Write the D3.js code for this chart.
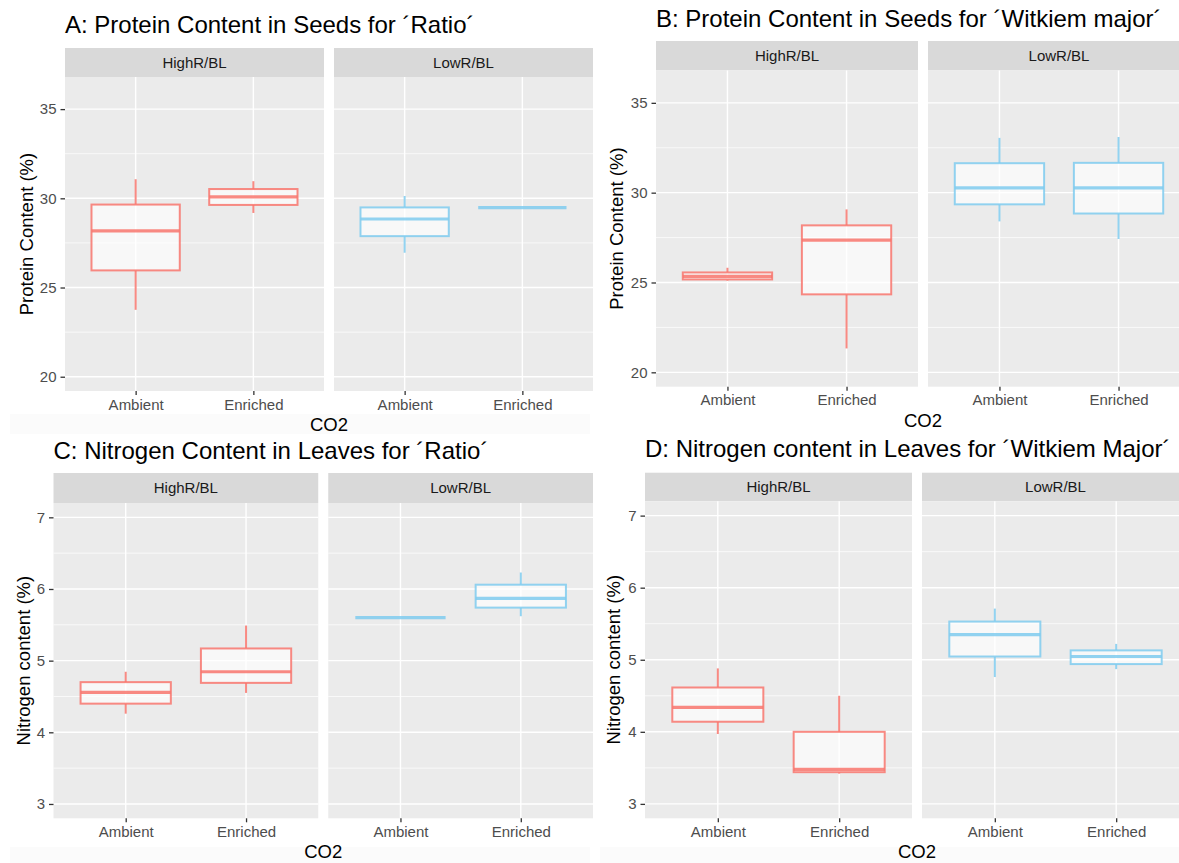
<!DOCTYPE html>
<html>
<head>
<meta charset="utf-8">
<script src="https://cdn.jsdelivr.net/npm/d3@7"></script>
<style>
  body { margin: 0; background: #fff; }
  svg { display: block; font-family: "Liberation Sans", Arial, Helvetica, sans-serif; }
</style>
</head>
<body>
<div id="chart"></div>
<script>
// facets and x categories
const facets = ["HighR/BL", "LowR/BL"];
const co2Levels = ["Ambient", "Enriched"];

// titles
const panelTitles = [
  "A: Protein Content in Seeds for \u00b4Ratio\u00b4",
  "B: Protein Content in Seeds for \u00b4Witkiem major\u00b4",
  "C: Nitrogen Content in Leaves for \u00b4Ratio\u00b4",
  "D: Nitrogen content in Leaves for \u00b4Witkiem Major\u00b4"
];
const yTitles = ["Protein Content (%)", "Protein Content (%)", "Nitrogen content (%)", "Nitrogen content (%)"];

// tick labels
const proteinTicks = [20, 25, 30, 35];
const proteinMinor = [22.5, 27.5, 32.5];
const nitrogenTicks = [3, 4, 5, 6, 7];
const nitrogenMinor = [3.5, 4.5, 5.5, 6.5];
const proteinLimits = [20, 36];
const nitrogenLimits = [3, 7];

// box stats [lower whisker, q1, median, q3, upper whisker]
// order: HighR Ambient, HighR Enriched, LowR Ambient, LowR Enriched
const proteinRatio = [
  [23.75, 25.96, 28.18, 29.65, 31.07],
  [29.18, 29.63, 30.08, 30.52, 30.96],
  [26.95, 27.88, 28.84, 29.49, 30.13],
  [29.48, 29.48, 29.48, 29.48, 29.48]
];
const proteinWitkiem = [
  [25.10, 25.17, 25.34, 25.56, 25.82],
  [21.33, 24.34, 27.36, 28.18, 29.07],
  [28.40, 29.35, 30.27, 31.64, 33.05],
  [27.42, 28.84, 30.27, 31.66, 33.10]
];
const nitrogenRatio = [
  [4.26, 4.40, 4.556, 4.70, 4.845],
  [4.55, 4.69, 4.845, 5.17, 5.49],
  [5.60, 5.60, 5.60, 5.60, 5.60],
  [5.62, 5.74, 5.87, 6.06, 6.23]
];
const nitrogenWitkiem = [
  [3.97, 4.14, 4.34, 4.615, 4.88],
  [3.42, 3.44, 3.48, 4.00, 4.50],
  [4.76, 5.045, 5.35, 5.53, 5.71],
  [4.87, 4.94, 5.045, 5.13, 5.22]
];

const facetColors = ["#f8766d", "#7fcbee"];

// layout of the four screenshots
const layout = [
  { left: 65, right: 593, stripTop: 48, stripH: 29, bottom: 391, titleY: 33, yTitleX: 33, xTitleY: 431 },
  { left: 656, right: 1190, stripTop: 41, stripH: 29.5, bottom: 386.7, titleY: 27, yTitleX: 623, xTitleY: 427 },
  { left: 53.5, right: 593, stripTop: 473, stripH: 30, bottom: 818.3, titleY: 459, yTitleX: 30, xTitleY: 858 },
  { left: 645, right: 1189, stripTop: 472.7, stripH: 28.5, bottom: 818.3, titleY: 457, yTitleX: 620, xTitleY: 858 }
];

const panels = [
  { stats: proteinRatio, ticks: proteinTicks, minor: proteinMinor, lim: proteinLimits },
  { stats: proteinWitkiem, ticks: proteinTicks, minor: proteinMinor, lim: proteinLimits },
  { stats: nitrogenRatio, ticks: nitrogenTicks, minor: nitrogenMinor, lim: nitrogenLimits },
  { stats: nitrogenWitkiem, ticks: nitrogenTicks, minor: nitrogenMinor, lim: nitrogenLimits }
];

const width = 1179, height = 863, gap = 10;

const svg = d3.select("#chart").append("svg")
  .attr("width", width)
  .attr("height", height);

svg.append("rect").attr("width", width).attr("height", height).attr("fill", "#fff");

// faint screenshot bands
svg.append("rect").attr("x", 10).attr("y", 414).attr("width", 580).attr("height", 20).attr("fill", "#fbfbfb");
svg.append("rect").attr("x", 10).attr("y", 847).attr("width", 580).attr("height", 16).attr("fill", "#fbfbfb");
svg.append("rect").attr("x", 600).attr("y", 847).attr("width", 579).attr("height", 16).attr("fill", "#fbfbfb");

panels.forEach((p, pi) => {
  const L = layout[pi];
  const plotTop = L.stripTop + L.stripH;
  const domainPad = (p.lim[1] - p.lim[0]) * 0.05;
  const y = d3.scaleLinear()
    .domain([p.lim[0] - domainPad, p.lim[1] + domainPad])
    .range([L.bottom, plotTop]);
  const fw = (L.right - L.left - gap) / 2;

  const g = svg.append("g");

  // title
  g.append("text")
    .attr("x", L.left).attr("y", L.titleY)
    .attr("font-size", 24).attr("fill", "#000")
    .text(panelTitles[pi]);

  // y axis title
  g.append("text")
    .attr("transform", `translate(${L.yTitleX},${(plotTop + L.bottom) / 2}) rotate(-90)`)
    .attr("text-anchor", "middle")
    .attr("font-size", 18.5).attr("fill", "#000")
    .text(yTitles[pi]);

  // x axis title
  g.append("text")
    .attr("x", (L.left + L.right) / 2).attr("y", L.xTitleY)
    .attr("text-anchor", "middle")
    .attr("font-size", 18.5).attr("fill", "#000")
    .text("CO2");

  facets.forEach((f, fi) => {
    const x0 = L.left + fi * (fw + gap);
    const x = d3.scalePoint().domain(co2Levels).range([x0, x0 + fw]).padding(0.6);
    const bw = x.step() * 0.75;

    // strip
    g.append("rect").attr("x", x0).attr("y", L.stripTop).attr("width", fw).attr("height", L.stripH).attr("fill", "#d9d9d9");
    g.append("text")
      .attr("x", x0 + fw / 2).attr("y", L.stripTop + L.stripH / 2)
      .attr("dy", "0.36em").attr("text-anchor", "middle")
      .attr("font-size", 15).attr("fill", "#1a1a1a")
      .text(f);

    // panel background
    g.append("rect").attr("x", x0).attr("y", plotTop).attr("width", fw).attr("height", L.bottom - plotTop).attr("fill", "#ebebeb");

    // grid
    g.selectAll(null).data(p.minor).enter().append("line")
      .attr("x1", x0).attr("x2", x0 + fw)
      .attr("y1", d => y(d)).attr("y2", d => y(d))
      .attr("stroke", "#fff").attr("stroke-width", 0.7);
    g.selectAll(null).data(p.ticks).enter().append("line")
      .attr("x1", x0).attr("x2", x0 + fw)
      .attr("y1", d => y(d)).attr("y2", d => y(d))
      .attr("stroke", "#fff").attr("stroke-width", 1.4);
    g.selectAll(null).data(co2Levels).enter().append("line")
      .attr("x1", d => x(d)).attr("x2", d => x(d))
      .attr("y1", plotTop).attr("y2", L.bottom)
      .attr("stroke", "#fff").attr("stroke-width", 1.4);

    // boxes
    const col = facetColors[fi];
    co2Levels.forEach((c, ci) => {
      const s = p.stats[fi * 2 + ci];
      const cx = x(c);
      const bg = g.append("g").attr("stroke", col).attr("stroke-opacity", 0.85);
      bg.append("line").attr("x1", cx).attr("x2", cx).attr("y1", y(s[3])).attr("y2", y(s[4])).attr("stroke-width", 2);
      bg.append("line").attr("x1", cx).attr("x2", cx).attr("y1", y(s[1])).attr("y2", y(s[0])).attr("stroke-width", 2);
      bg.append("rect")
        .attr("x", cx - bw / 2).attr("y", y(s[3]))
        .attr("width", bw).attr("height", Math.max(0, y(s[1]) - y(s[3])))
        .attr("fill", "#fff").attr("fill-opacity", 0.65)
        .attr("stroke-width", 2);
      bg.append("line")
        .attr("x1", cx - bw / 2).attr("x2", cx + bw / 2)
        .attr("y1", y(s[2])).attr("y2", y(s[2]))
        .attr("stroke-width", 3.2);
    });

    // x axis
    const xa = g.append("g")
      .attr("transform", `translate(0,${L.bottom})`)
      .call(d3.axisBottom(x).tickSize(4).tickPadding(4));
    xa.select(".domain").remove();
    xa.selectAll("line").attr("stroke", "#333").attr("stroke-width", 1.3);
    xa.selectAll("text").attr("font-size", 15).attr("fill", "#4d4d4d").attr("font-family", null);
  });

  // y axis
  const ya = g.append("g")
    .attr("transform", `translate(${L.left},0)`)
    .call(d3.axisLeft(y).tickValues(p.ticks).tickFormat(d3.format("d")).tickSize(4.5).tickPadding(4));
  ya.select(".domain").remove();
  ya.selectAll("line").attr("stroke", "#333").attr("stroke-width", 1.3);
  ya.selectAll("text").attr("font-size", 15).attr("fill", "#4d4d4d").attr("font-family", null);
});
</script>
</body>
</html>
